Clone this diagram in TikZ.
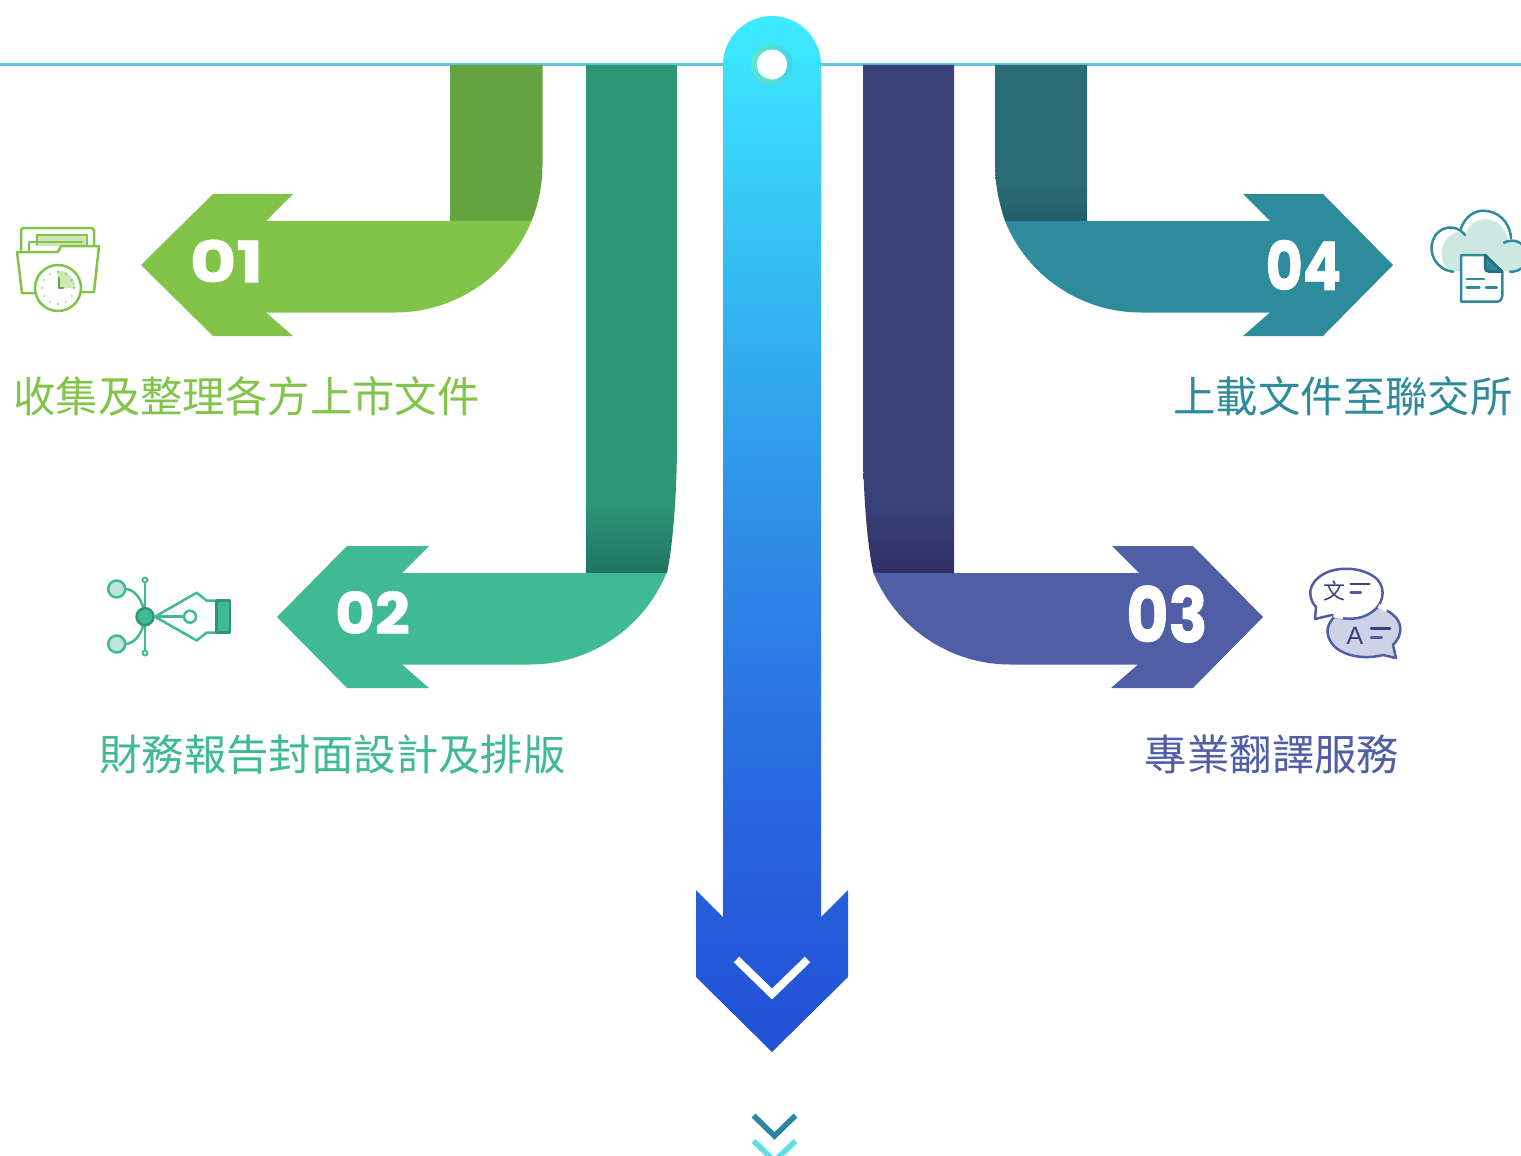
\documentclass[tikz,border=0pt]{standalone}
\usepackage{graphicx}
\usepackage{fontspec}
\newfontfamily\cjkfont{Noto Sans CJK TC}
\newfontfamily\numfont[BoldFeatures={FakeBold=1.2}]{Poppins}
\newfontfamily\sansfont{Liberation Sans}
\definecolor{cgl}{HTML}{82C44A}\definecolor{cgd}{HTML}{65A341}
\definecolor{ctl}{HTML}{40B995}\definecolor{ctd}{HTML}{2E9677}\definecolor{ctb}{HTML}{1E7560}
\definecolor{cil}{HTML}{505EA6}\definecolor{cid}{HTML}{3A4179}\definecolor{cib}{HTML}{322E66}
\definecolor{cbl}{HTML}{2E8B9C}\definecolor{cbd}{HTML}{2B6B75}\definecolor{cbb}{HTML}{225E68}
\definecolor{cloudc}{HTML}{CDE8E1}
\definecolor{linec}{HTML}{62C4E3}
\definecolor{ma}{HTML}{2350D6}\definecolor{mb}{HTML}{2864DE}\definecolor{mc}{HTML}{2F8CE8}\definecolor{md}{HTML}{34B9F2}\definecolor{me}{HTML}{3EEBFF}
\definecolor{chevd}{HTML}{2A84A2}\definecolor{chevc}{HTML}{59E3E0}
\definecolor{ringa}{HTML}{62E8C0}\definecolor{ringb}{HTML}{3CD4F0}
\pgfdeclareverticalshading{mainshade}{100bp}{color(0bp)=(ma);color(25bp)=(ma);color(36bp)=(mb);color(50bp)=(mc);color(62bp)=(md);color(75bp)=(me);color(100bp)=(me)}
\pgfdeclareverticalshading{tealshade}{100bp}{color(0bp)=(ctb);color(25bp)=(ctb);color(32bp)=(ctd);color(100bp)=(ctd)}
\pgfdeclareverticalshading{indigoshade}{100bp}{color(0bp)=(cib);color(25bp)=(cib);color(32bp)=(cid);color(100bp)=(cid)}
\pgfdeclareverticalshading{blueshade}{100bp}{color(0bp)=(cbb);color(25bp)=(cbb);color(37bp)=(cbd);color(100bp)=(cbd)}
\tikzset{
  lbl/.style={inner sep=0pt,font=\cjkfont\fontsize{42.4}{44}\selectfont},
  num/.style={inner sep=0pt,text=white,font=\numfont\bfseries\fontsize{#1}{#1}\selectfont},
  icon/.style={line width=2.5pt,line join=round,line cap=round},
}
\begin{document}
\begin{tikzpicture}[x=1pt,y=-1pt]
\useasboundingbox (0,0) rectangle (1521,1156);
\draw[linec,line width=2.5pt] (0,64.5) -- (1521,64.5);
% 01
\fill[cgd] (450,65)--(542.5,65)--(542.5,165) .. controls (542.5,184.2) and (538.8,203.2) .. (531.5,221)--(450,221)--cycle;
\fill[cgl] (141,265)--(213,194)--(293,194)--(266,221)--(531.5,221) .. controls (508.8,276.3) and (454.8,312.5) .. (395,312.5)--(266,312.5)--(293,336)--(213,336)--cycle;
% 02
\shade[shading=tealshade] (586,65)--(677,65)--(677,440) .. controls (677,500) and (672,550) .. (667,573)--(586,573)--cycle;
\fill[ctl] (277,617)--(347,546)--(429,546)--(402,573)--(666.5,573) .. controls (643.8,628.3) and (589.8,664.5) .. (530,664.5)--(402,664.5)--(429,688)--(347,688)--cycle;
% 03
\shade[shading=indigoshade] (954,65)--(863,65)--(863,440) .. controls (863,500) and (868,550) .. (873.5,573)--(954,573)--cycle;
\fill[cil] (1263,617)--(1193,546)--(1112,546)--(1139,573)--(873.5,573) .. controls (896.2,628.3) and (950.2,664.5) .. (1010,664.5)--(1138,664.5)--(1111,688)--(1193,688)--cycle;
% 04
\shade[shading=blueshade] (1087,65)--(995,65)--(995,165) .. controls (995,184.2) and (999,203.2) .. (1005,221)--(1087,221)--cycle;
\fill[cbl] (1393,265)--(1323,194)--(1243,194)--(1270,221)--(1005,221) .. controls (1027.2,276.3) and (1081.2,312.5) .. (1141,312.5)--(1270,312.5)--(1243,336)--(1323,336)--cycle;
% central arrow
\shade[shading=mainshade] (723,65) .. controls (723,38) and (745,16) .. (772,16) .. controls (799,16) and (821,38) .. (821,65)--(821,917)--(848,890)--(848,977)--(772,1052)--(696,977)--(696,890)--(723,917)--cycle;
\shade[left color=ringa,right color=ringb] (772,64.5) circle (20.5);
\fill[white] (772,64.5) circle (15);
\draw[white,line width=7.8pt] (736.5,959.5)--(772,994)--(807.5,959.5);
\draw[chevd,line width=5.5pt] (753.5,1115.5)--(774.5,1136)--(795.5,1115.5);
\draw[chevc,line width=5.5pt] (753.5,1141)--(774.5,1161)--(795.5,1141);
% numbers
\node[num=57] (n1) at (226.5,261) {\scalebox{1.25}[1]{01}};
\node[num=57] (n2) at (372.5,612.5) {\scalebox{1.07}[1]{02}};
\node[num=76] (n3) at (1167,614) {\scalebox{.85}[1]{03}};
\node[num=67] (n4) at (1303.5,265) {\scalebox{.85}[1]{04}};
% labels
\node[lbl,text=cgl] (t1) at (246.5,396.5) {收集及整理各方上市文件};
\node[lbl,text=ctl] (t2) at (332.5,754.5) {財務報告封面設計及排版};
\node[lbl,text=cil] (t3) at (1272,754.5) {專業翻譯服務};
\node[lbl,text=cbl] (t4) at (1343,396.5) {上載文件至聯交所};
% icon 01
\begin{scope}[icon,draw=cgl]
\draw (21,250)--(21,230) to[out=-90,in=180] (23,228)--(92,228) to[out=0,in=-90] (94,230)--(94,248);
\fill[cgl!40] (38,236) rectangle (86,246);
\draw (37,245)--(37,235)--(87,235)--(87,246);
\draw (29,252)--(29,242)--(82,242);
\fill[white] (18,252)--(58,252)--(61,246)--(98,246)--(94,292)--(22,293)--cycle;
\draw (17,252)--(58,252)--(61,246)--(99,246)--(94,292)--(81,292);
\draw (35,293)--(22,293)--(17,252);
\fill[white] (58,288) circle (23);
\fill[cgl!40] (58,288)--(58,270) -- (66,272) -- (73,278) -- (76,288) --cycle;
\draw (58,288) circle (23);
\foreach \a in {0,30,...,330} \fill[cgd] (58,288)++(\a:16) circle (.8);
\draw[cgd] (59,278)--(59,288)--(63,288);
\end{scope}
% icon 02
\begin{scope}[icon,draw=ctl]
\draw (145,580)--(145,653);
\fill[white] (145,580) circle (3);\draw[line width=1.8pt] (145,580) circle (2.5);
\fill[white] (145,653) circle (3);\draw[line width=1.8pt] (145,653) circle (2.5);
\draw (125,589) .. controls (134,589) and (141,598) .. (144,610);
\draw (125,644) .. controls (134,644) and (141,635) .. (144,623);
\draw[fill=ctl!35!white] (116.7,589) circle (8.5);
\draw[fill=ctl!35!white] (116.7,644) circle (8.5);
\draw[draw=ctd,fill=ctl] (145,616.7) circle (8.5);
\draw (155,616.7)--(196.7,592.7)--(206.7,600.7)--(216.7,600.7);
\draw (155,616.7)--(196.7,640.5)--(206.7,632.5)--(216.7,632.5);
\draw (155,616.7)--(184,616.7);
\draw (190,616.7) circle (6);
\draw[draw=ctd,fill=ctl] (216.7,600.7) rectangle (230,632.5);
\end{scope}
% icon 03
\begin{scope}[icon,draw=cil]
\path[fill=cil!28!white,draw=cil] (1393,645) .. controls (1403,635) and (1403,622) .. (1392,614) .. controls (1380,604) and (1360,603) .. (1347,609) .. controls (1330,616) and (1321,630) .. (1333,645) .. controls (1345,658) and (1368,659) .. (1383,655)--(1396,658)--cycle;
\path[fill=white,draw=cil] (1331.7,615) .. controls (1341,620) and (1360,621) .. (1372,612) .. controls (1386,602) and (1386,584) .. (1373,576) .. controls (1358,566) and (1331,566) .. (1318,578) .. controls (1306,588) and (1310,601) .. (1316,607)--(1315,619)--cycle;
\draw[white,line width=3.5pt,line cap=butt] (1333.5,615.5)--(1343,617.5);
\draw[white,line width=4pt,line cap=butt] (1378.5,606)--(1387,610);
\draw[cid] (1350.7,584)--(1369.3,584);
\draw[cil] (1350.7,592.7)--(1360.7,592.7);
\draw[cid] (1371,628.3)--(1390,628.3);
\draw[cil] (1371,637.3)--(1381.7,637.3);
\node[inner sep=0pt,text=cid,font=\cjkfont\fontsize{22}{22}\selectfont] (w1) at (1334.5,591.5) {文};
\node[inner sep=0pt,text=cid,font=\sansfont\fontsize{25}{25}\selectfont] (w2) at (1355,635.5) {A};
\end{scope}
% icon 04
\begin{scope}[icon,draw=cbl]
\fill[cloudc] (1453,271) .. controls (1438,268) and (1437,240) .. (1455,233) .. controls (1460,231) and (1463,232) .. (1466,233) .. controls (1470,218) and (1500,208) .. (1509,242) .. controls (1515,240) and (1521,242) .. (1525,248)--(1525,265)--(1512,271)--cycle;
\draw (1453.3,271.7) .. controls (1436,270) and (1428,253) .. (1433,240) .. controls (1438,226) and (1456,223) .. (1465,235);
\draw (1460.7,229.3) .. controls (1465,216) and (1475,210.7) .. (1483.3,210.7) .. controls (1498,210.7) and (1510,222) .. (1511,238.3);
\draw (1504,242.7) .. controls (1511,239) and (1520,240) .. (1525,248);
\draw (1525,265) .. controls (1521,270) and (1515,272) .. (1510,271.7);
\draw[line cap=butt,fill=white] (1461,255)--(1485,255)--(1502.3,272.3)--(1502.3,295) .. controls (1502.3,299) and (1500,301.7) .. (1496.7,301.7)--(1461,301.7)--cycle;
\draw[fill=cbl,draw=cbl!80!black] (1485,255)--(1485,267) .. controls (1485,270) and (1486,271.7) .. (1489,271.7)--(1502.3,271.7)--cycle;
\draw (1466.7,279)--(1484,279);
\draw (1466.7,287.7)--(1479.3,287.7);
\draw (1486,287.7)--(1496.7,287.7);
\end{scope}
\end{tikzpicture}
\end{document}
